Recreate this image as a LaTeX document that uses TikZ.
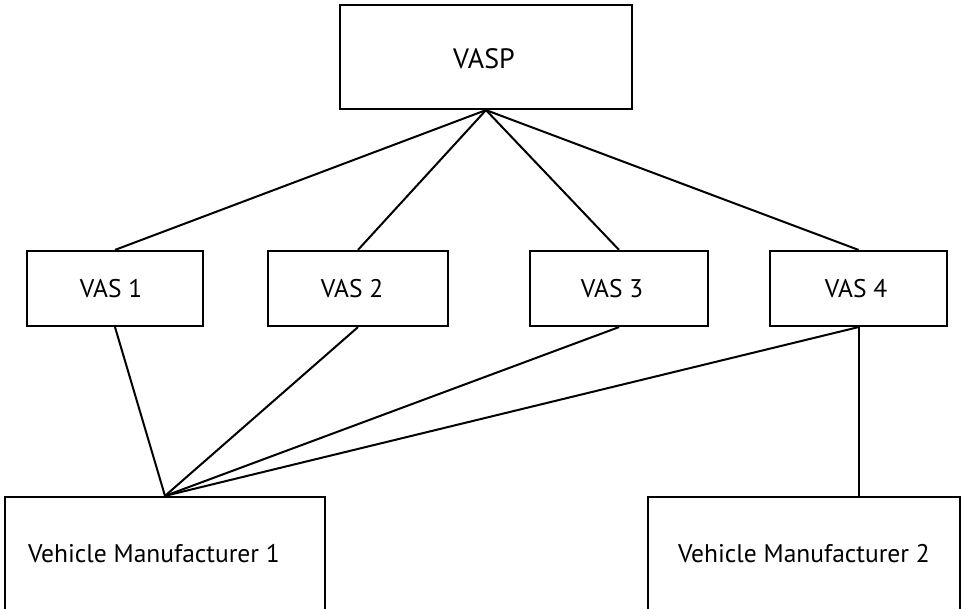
\documentclass[tikz,border=0pt]{standalone}
\usepackage{fontspec}
\setmainfont{PT Sans}
\begin{document}
\begin{tikzpicture}[x=1pt,y=-1pt,
  box/.style={draw, line width=2.2pt, inner sep=0pt, fill=white},
  lbl/.style={inner sep=0pt, font=\fontsize{25.5}{30}\selectfont},
  link/.style={line width=2pt}]
\useasboundingbox (0,0) rectangle (965,609);
\clip (0,0) rectangle (965,609);
% top provider
\node[box, minimum width=292pt, minimum height=104pt] (vasp) at (486,57) {};
\node[lbl, font=\fontsize{28}{32}\selectfont] (vasptext) at (484,59) {VASP};
% services
\node[box, minimum width=176pt, minimum height=75pt] (vas1) at (115,288.5) {};
\node[box, minimum width=180pt, minimum height=75pt] (vas2) at (358,288.5) {};
\node[box, minimum width=178pt, minimum height=75pt] (vas3) at (619,288.5) {};
\node[box, minimum width=177pt, minimum height=75pt] (vas4) at (858.5,288.5) {};
\node[lbl] (vas1text) at (111,289) {VAS 1};
\node[lbl] (vas2text) at (352,289) {VAS 2};
\node[lbl] (vas3text) at (612,289) {VAS 3};
\node[lbl] (vas4text) at (856,289) {VAS 4};
% manufacturers (bottom edges run off the page)
\node[box, minimum width=320pt, minimum height=114pt] (vm1) at (165,554) {};
\node[box, minimum width=312pt, minimum height=114pt] (vm2) at (804,554) {};
\node[lbl] (vm1text) at (154,554) {Vehicle Manufacturer 1};
\node[lbl] (vm2text) at (804,554) {Vehicle Manufacturer 2};
% connectors
\coordinate (apex) at (vasp.south);
\coordinate (hub) at (vm1.north);
\coordinate (vm2top) at (vas4.south |- vm2.north);
\foreach \v in {vas1,vas2,vas3,vas4} {
  \draw[link] (apex) -- (\v.north);
  \draw[link] (\v.south) -- (hub);
}
\draw[link] (vas4.south) -- (vm2top);
\end{tikzpicture}
\end{document}
